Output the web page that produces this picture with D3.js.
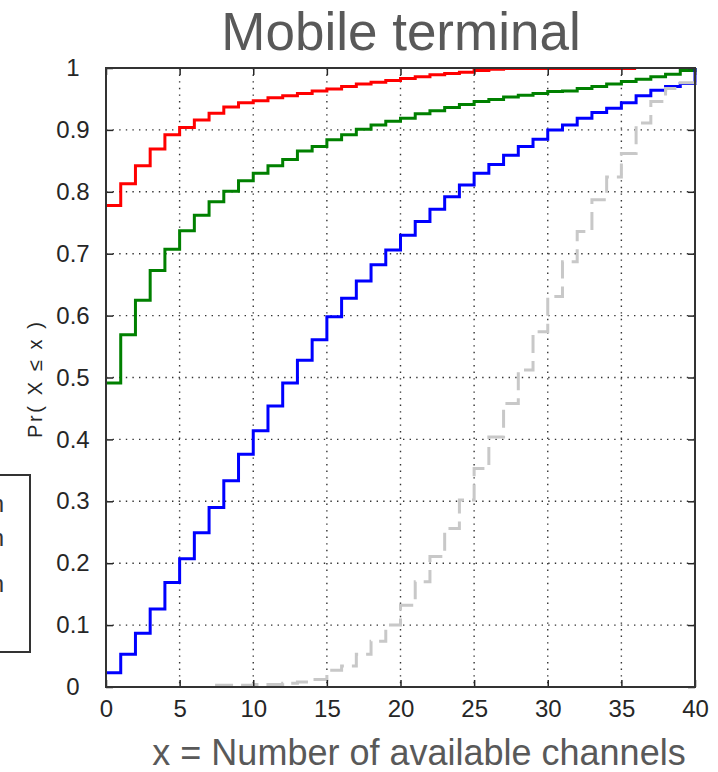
<!DOCTYPE html>
<html>
<head>
<meta charset="utf-8">
<script src="https://cdn.jsdelivr.net/npm/d3@7"></script>
<style>
  html, body { margin: 0; padding: 0; background: #fff; }
  svg { display: block; font-family: "Liberation Sans", Arial, sans-serif; }
</style>
</head>
<body>
<script>
// chart values, one entry per number of channels x = 0..40 (null = not drawn)
const channels = d3.range(0, 41);

const redCdf = [0.778, 0.813, 0.842, 0.869, 0.892, 0.904, 0.916, 0.927, 0.937, 0.944,
  0.947, 0.952, 0.955, 0.959, 0.963, 0.966, 0.970, 0.974, 0.977, 0.980,
  0.983, 0.986, 0.989, 0.991, 0.993, 0.996, 0.998, 0.999, 0.999, 0.999,
  0.999, 0.999, 0.999, 0.999, 0.999, 0.999, 0.999, null, null, null, null];

const greenCdf = [0.491, 0.569, 0.625, 0.673, 0.707, 0.737, 0.762, 0.784, 0.801, 0.818,
  0.830, 0.842, 0.852, 0.866, 0.873, 0.884, 0.892, 0.901, 0.908, 0.914,
  0.919, 0.926, 0.931, 0.936, 0.941, 0.946, 0.949, 0.953, 0.956, 0.959,
  0.962, 0.963, 0.967, 0.970, 0.974, 0.978, 0.982, 0.986, 0.990, 0.996, 1.0];

const blueCdf = [0.023, 0.053, 0.087, 0.126, 0.169, 0.207, 0.249, 0.290, 0.333, 0.376,
  0.414, 0.454, 0.491, 0.528, 0.561, 0.598, 0.628, 0.656, 0.682, 0.706,
  0.730, 0.752, 0.772, 0.792, 0.811, 0.830, 0.844, 0.859, 0.873, 0.885,
  0.900, 0.908, 0.919, 0.928, 0.935, 0.944, 0.955, 0.964, 0.970, 0.975, 1.0];

const grayCdf = [null, null, null, null, null, null, null, 0.003, 0.003, 0.003,
  0.004, 0.004, 0.006, 0.008, 0.012, 0.027, 0.034, 0.053, 0.074, 0.100,
  0.132, 0.170, 0.211, 0.256, 0.302, 0.353, 0.404, 0.458, 0.512, 0.574,
  0.631, 0.687, 0.736, 0.787, 0.824, 0.862, 0.911, 0.946, 0.967, 0.976, 0.977];

const xTicks = [0, 5, 10, 15, 20, 25, 30, 35, 40];
const yTicks = [0, 0.1, 0.2, 0.3, 0.4, 0.5, 0.6, 0.7, 0.8, 0.9, 1];

const titleText = "Mobile terminal";
const xLabelText = "x = Number of available channels";
const yLabelText = "Pr( X \u2264 x )";
const legendTexts = ["n", "n", "n"];

const series = [
  {values: redCdf, color: "#ff0000", dash: null},
  {values: greenCdf, color: "#008000", dash: null},
  {values: blueCdf, color: "#0000ff", dash: null},
  {values: grayCdf, color: "#c8c8c8", dash: "18,8"}
];

const w = 718;
const h = 772;
const padL = 106, padR = 695, padT = 68, padB = 687;

const xScale = d3.scaleLinear().domain([0, 40]).range([padL, padR]);
const yScale = d3.scaleLinear().domain([0, 1]).range([padB, padT]);

const svg = d3.select("body")
  .append("svg")
  .attr("width", w)
  .attr("height", h);

// cut-off legend box from the neighbouring panel
svg.append("rect")
  .attr("x", -100).attr("y", 475)
  .attr("width", 130).attr("height", 177)
  .attr("fill", "#fff")
  .attr("stroke", "#333")
  .attr("stroke-width", 2);

svg.selectAll(".legtext")
  .data(legendTexts)
  .enter()
  .append("text")
  .attr("class", "legtext")
  .attr("x", 4)
  .attr("y", (d, i) => [512, 546, 592][i])
  .attr("text-anchor", "end")
  .attr("font-size", 24)
  .attr("fill", "#333")
  .text(d => d);

// grid
const grid = svg.append("g").attr("stroke", "#333").attr("stroke-width", 1.4)
  .attr("stroke-dasharray", "1.4,5.2");
grid.selectAll(".gx")
  .data(xTicks.slice(1, -1))
  .enter()
  .append("line")
  .attr("x1", d => xScale(d)).attr("x2", d => xScale(d))
  .attr("y1", padT).attr("y2", padB);
grid.selectAll(".gy")
  .data(yTicks.slice(1, -1))
  .enter()
  .append("line")
  .attr("y1", d => yScale(d)).attr("y2", d => yScale(d))
  .attr("x1", padL).attr("x2", padR);

// curves
svg.append("clipPath").attr("id", "plotclip")
  .append("rect")
  .attr("x", padL - 2).attr("y", padT - 2)
  .attr("width", padR - padL + 4).attr("height", padB - padT + 4);

const line = d3.line()
  .defined(d => d[1] !== null)
  .x(d => xScale(d[0]))
  .y(d => yScale(d[1]))
  .curve(d3.curveStepAfter);

series.forEach(s => {
  svg.append("path")
    .datum(channels.map((c, i) => [c, s.values[i]]))
    .attr("clip-path", "url(#plotclip)")
    .attr("fill", "none")
    .attr("stroke", s.color)
    .attr("stroke-width", 3)
    .attr("stroke-dasharray", s.dash)
    .attr("stroke-dashoffset", s.dash ? 20 : null)
    .attr("d", line);
});

// axes (ticks inside, on all four sides)
function styleAxis(g) {
  g.select(".domain").remove();
  g.selectAll(".tick line").attr("stroke", "#262626").attr("stroke-width", 1.5);
  g.selectAll(".tick text")
    .attr("fill", "#262626")
    .attr("font-size", 24)
    .attr("font-family", "\"Liberation Sans\", Arial, sans-serif");
}

const yAxis = d3.axisLeft(yScale).tickValues(yTicks).tickSize(-7).tickPadding(9)
  .tickFormat(d3.format("~g"));
svg.append("g")
  .attr("transform", "translate(" + padL + ",0)")
  .call(yAxis)
  .call(styleAxis)
  .call(g => g.selectAll(".tick text").attr("text-anchor", "middle").attr("x", -33));

const xAxis = d3.axisBottom(xScale).tickValues(xTicks).tickSize(-7).tickPadding(13);
svg.append("g")
  .attr("transform", "translate(0," + padB + ")")
  .call(xAxis)
  .call(styleAxis);

svg.append("g")
  .attr("transform", "translate(" + padR + ",0)")
  .call(d3.axisRight(yScale).tickValues(yTicks).tickSize(-7).tickFormat(""))
  .call(styleAxis);

svg.append("g")
  .attr("transform", "translate(0," + padT + ")")
  .call(d3.axisTop(xScale).tickValues(xTicks).tickSize(-7).tickFormat(""))
  .call(styleAxis);

// frame
svg.append("rect")
  .attr("x", padL).attr("y", padT)
  .attr("width", padR - padL).attr("height", padB - padT)
  .attr("fill", "none")
  .attr("stroke", "#333")
  .attr("stroke-width", 2);

// labels
svg.append("text")
  .attr("x", 401).attr("y", 50)
  .attr("text-anchor", "middle")
  .attr("font-size", 53)
  .attr("fill", "#595959")
  .text(titleText);

svg.append("text")
  .attr("x", 419).attr("y", 765)
  .attr("text-anchor", "middle")
  .attr("font-size", 36)
  .attr("fill", "#595959")
  .text(xLabelText);

svg.append("text")
  .attr("transform", "translate(42,380) rotate(-90)")
  .attr("text-anchor", "middle")
  .attr("font-size", 20)
  .attr("fill", "#262626")
  .attr("textLength", 116)
  .attr("lengthAdjust", "spacing")
  .text(yLabelText);
</script>
</body>
</html>
